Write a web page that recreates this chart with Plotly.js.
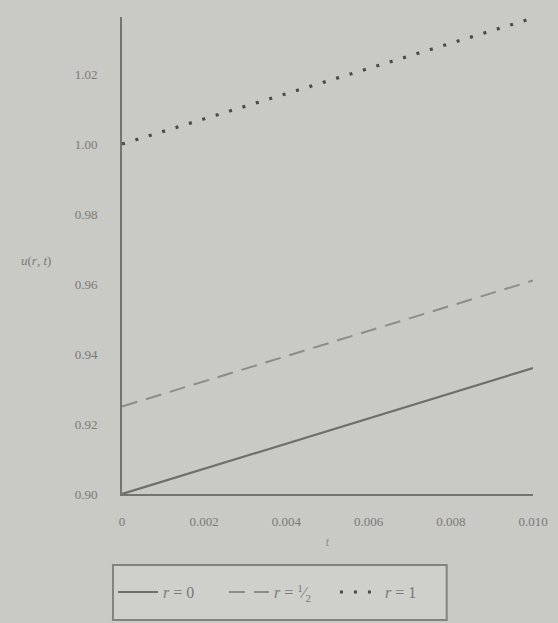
<!DOCTYPE html>
<html>
<head>
<meta charset="utf-8">
<script src="https://cdn.plot.ly/plotly-3.0.1.min.js"></script>
<style>html,body{margin:0;padding:0;background:#c9c9c5;}#chart{width:558px;height:623px;}</style>
</head>
<body>
<div id="chart"></div>
<script>
// Data
const t = [0, 0.010];
const uR0 = [0.900, 0.936];
const uRHalf = [0.925, 0.961];
const uR1 = [1.000, 1.036];
const seriesNames = ['<i>r</i> = 0', '<i>r</i> = <sup>1</sup>⁄<sub>2</sub>', '<i>r</i> = 1'];
const xTickVals = [0, 0.002, 0.004, 0.006, 0.008, 0.010];
const xTickText = ['0', '0.002', '0.004', '0.006', '0.008', '0.010'];
const yTickVals = [0.90, 0.92, 0.94, 0.96, 0.98, 1.00, 1.02];
const yTickText = ['0.90', '0.92', '0.94', '0.96', '0.98', '1.00', '1.02'];

const serif = 'Liberation Serif, DejaVu Serif, serif';
const bg = '#c9c9c5';

const traces = [
  {x: t, y: uR0, name: seriesNames[0], mode: 'lines', line: {color: '#6e6e6c', width: 2.2, dash: 'solid'}},
  {x: t, y: uRHalf, name: seriesNames[1], mode: 'lines', line: {color: '#8c8c89', width: 2, dash: '16px,9px'}},
  {x: t, y: uR1, name: seriesNames[2], mode: 'lines', line: {color: '#4a4a48', width: 3.2, dash: '3px,11px'}}
];

const layout = {
  width: 558, height: 623,
  margin: {l: 122, r: 25, t: 17, b: 129},
  paper_bgcolor: bg, plot_bgcolor: bg,
  showlegend: true,
  font: {family: serif, color: '#767674', size: 13},
  xaxis: {
    range: [0, 0.010], showgrid: false, zeroline: false,
    showline: true, linecolor: '#737371', linewidth: 2,
    ticks: '', tickvals: xTickVals, ticktext: xTickText,
    ticklabelstandoff: 14,
    tickfont: {family: serif, size: 13, color: '#7a7a78'},
    title: {text: '<i>t</i>', font: {family: serif, size: 12, color: '#8a8a88'}, standoff: 10}
  },
  yaxis: {
    range: [0.9, 1.0363], showgrid: false, zeroline: false,
    showline: true, linecolor: '#737371', linewidth: 2,
    ticks: '', tickvals: yTickVals, ticktext: yTickText,
    ticklabelstandoff: 20,
    tickfont: {family: serif, size: 13, color: '#7a7a78'}
  },
  annotations: [{
    text: '<i>u</i>(<i>r</i>, <i>t</i>)', xref: 'paper', yref: 'paper',
    x: -0.21, y: 0.49, xanchor: 'center', yanchor: 'middle', showarrow: false,
    font: {family: serif, size: 13, color: '#7a7a78'}
  }],
  shapes: [{
    type: 'rect', xref: 'paper', yref: 'paper', layer: 'below',
    x0: -0.022, x1: 0.79, y0: -0.149, y1: -0.264,
    fillcolor: '#cfcfcb', line: {color: '#828280', width: 2}
  }],
  legend: {
    orientation: 'h', xref: 'paper', yref: 'paper',
    x: -0.022, y: -0.170, xanchor: 'left', yanchor: 'top',
    bgcolor: 'rgba(0,0,0,0)', borderwidth: 0,
    itemwidth: 40, entrywidth: 56, entrywidthmode: 'pixels',
    font: {family: serif, size: 16, color: '#7a7a78'}
  }
};

Plotly.newPlot('chart', traces, layout, {displayModeBar: false, staticPlot: true});
</script>
</body>
</html>
